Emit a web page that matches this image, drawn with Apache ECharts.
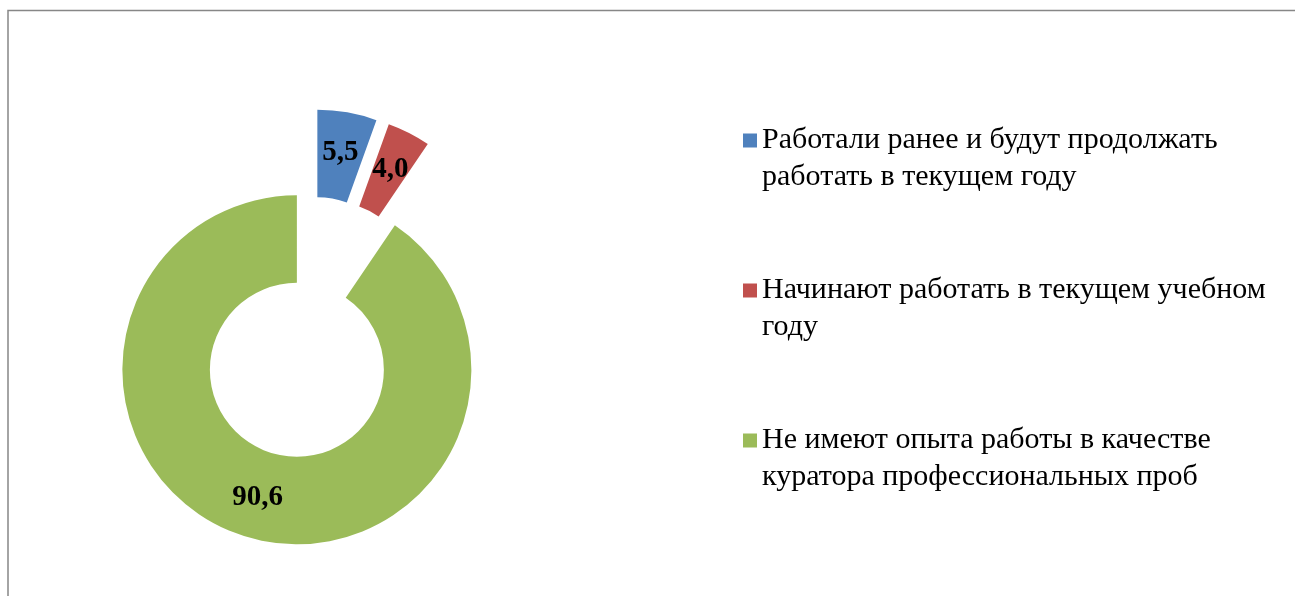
<!DOCTYPE html>
<html>
<head>
<meta charset="utf-8">
<script src="https://cdn.jsdelivr.net/npm/echarts@6/dist/echarts.min.js"></script>
<style>
  html, body { margin: 0; padding: 0; background: #fff; }
  #chart { width: 1295px; height: 596px; }
</style>
</head>
<body>
<div id="chart"></div>
<script>
// категории и значения (%)
const categories = [
    'Работали ранее и будут продолжать\nработать в текущем году',
    'Начинают работать в текущем учебном\nгоду',
    'Не имеют опыта работы в качестве\nкуратора профессиональных проб'
];
const values = [5.5, 4.0, 90.6];
const colors = ['#4F81BD', '#C0504D', '#9BBB59'];

const dom = document.getElementById('chart');
const myChart = echarts.init(dom);

const pieData = categories.map((name, i) => ({
    name: name,
    value: values[i],
    selected: true,
    itemStyle: { color: colors[i] }
}));

const option = {
    backgroundColor: '#fff',
    animation: false,
    graphic: [{
        type: 'rect',
        shape: { x: 8, y: 10.5, width: 1300, height: 600 },
        style: { fill: 'none', stroke: '#878787', lineWidth: 1.5 },
        silent: true
    }],
    legend: {
        orient: 'vertical',
        left: 743,
        top: 85,
        padding: 0,
        itemWidth: 14,
        itemHeight: 14,
        itemGap: 39,
        icon: 'rect',
        data: categories.map((name, i) => ({ name: name, itemStyle: { color: colors[i] } })),
        // пустая строка сверху, чтобы значок стоял против первой строки
        formatter: name => '\n' + name,
        textStyle: {
            fontFamily: 'Liberation Serif',
            fontSize: 30,
            lineHeight: 37,
            color: '#000'
        }
    },
    series: [{
        type: 'pie',
        center: [309.8, 327.7],
        radius: [87, 174.5],
        startAngle: 90,
        clockwise: true,
        selectedMode: 'multiple',
        selectedOffset: 44,
        avoidLabelOverlap: false,
        label: {
            show: true,
            position: 'inside',
            fontFamily: 'Liberation Serif',
            fontWeight: 'bold',
            fontSize: 29,
            color: '#000',
            formatter: p => p.value.toFixed(1).replace('.', ',')
        },
        labelLine: { show: false },
        emphasis: { disabled: true },
        select: { itemStyle: { borderWidth: 0 } },
        data: pieData
    }]
};

myChart.setOption(option);
window.addEventListener('resize', function () {
    myChart.resize();
});
</script>
</body>
</html>
